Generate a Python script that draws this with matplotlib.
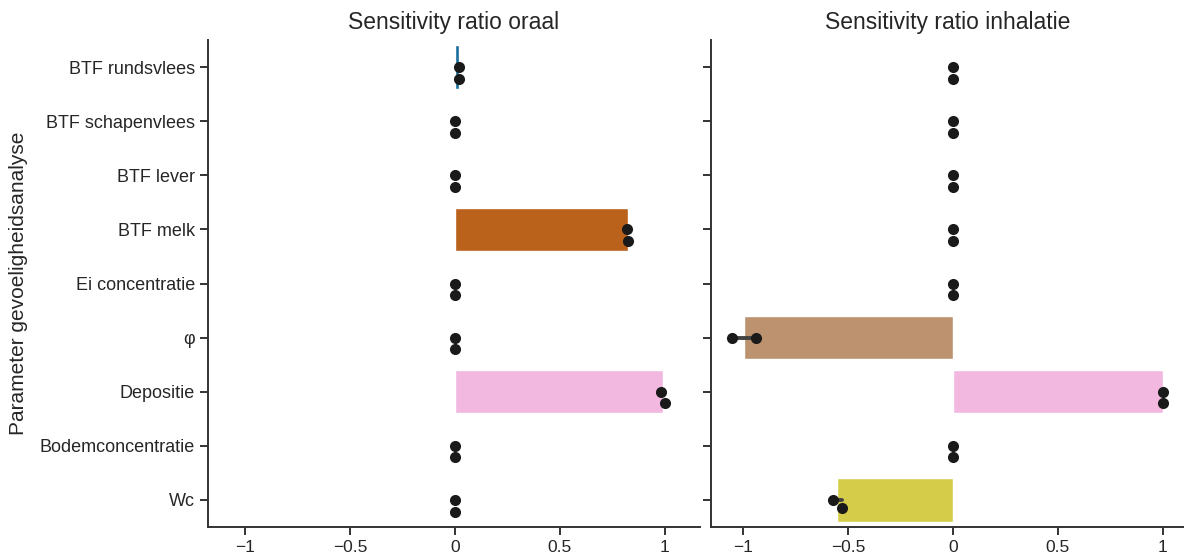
import matplotlib.pyplot as plt
import matplotlib.ticker as mticker
import numpy as np
import pandas as pd
import seaborn as sns

sns.set_style("ticks")
plt.rcParams['font.family'] = ['Liberation Sans', 'DejaVu Sans']

# Parameters (rows) and the two model runs per panel
params = ["BTF rundsvlees", "BTF schapenvlees", "BTF lever", "BTF melk",
          "Ei concentratie", "φ", "Depositie", "Bodemconcentratie", "Wc"]

oraal_run1 = [0.02, 0.0, 0.0, 0.82, 0.0, 0.0, 0.98, 0.0, 0.0]
oraal_run2 = [0.02, 0.0, 0.0, 0.825, 0.0, 0.0, 1.0, 0.0, 0.0]

inhal_run1 = [0.0, 0.0, 0.0, 0.0, 0.0, -1.05, 1.0, 0.0, -0.57]
inhal_run2 = [0.0, 0.0, 0.0, 0.0, 0.0, -0.94, 1.0, 0.0, -0.53]

titles = ["Sensitivity ratio oraal", "Sensitivity ratio inhalatie"]
xticks = [-1, -0.5, 0, 0.5, 1]


def long_df(run1, run2):
    return pd.DataFrame({
        "param": params * 2,
        "value": run1 + run2,
    })


fig = plt.figure(figsize=(11.84, 5.59), dpi=100)
ax1 = fig.add_axes([208 / 1184, 32 / 559, 492 / 1184, 487 / 559])
ax2 = fig.add_axes([711 / 1184, 32 / 559, 473 / 1184, 487 / 559])

frames = [long_df(oraal_run1, oraal_run2), long_df(inhal_run1, inhal_run2)]
xlims = [(-1.176, 1.167), (-1.152, 1.10)]

for ax, df, title, xl in zip([ax1, ax2], frames, titles, xlims):
    sns.barplot(data=df, x="value", y="param", hue="param", order=params,
                hue_order=params, palette="colorblind", legend=False,
                errorbar=("pi", 100), err_kws={"color": ".26", "linewidth": 2.8},
                width=0.8, ax=ax)
    sns.swarmplot(data=df, x="value", y="param", order=params, color="0.1",
                  size=8, ax=ax)
    ax.set_xlim(*xl)
    ax.set_xticks(xticks)
    ax.xaxis.set_major_formatter(
        mticker.FuncFormatter(lambda v, p: f"{v:g}".replace("-", "\u2212")))
    ax.set_title(title, fontsize=16.5, pad=8)
    ax.set_xlabel("")
    ax.tick_params(axis="y", labelsize=13, length=6, width=1.4, color="0.2")
    ax.tick_params(axis="x", labelsize=12.5, length=6, width=1.4, color="0.2")
    for s in ["left", "bottom"]:
        ax.spines[s].set_linewidth(1.4)
        ax.spines[s].set_color("0.2")
    sns.despine(ax=ax)

ax1.set_ylabel("Parameter gevoeligheidsanalyse", fontsize=15, labelpad=8)
ax2.set_ylabel("")
ax2.set_yticklabels([])

fig.savefig("out.png", dpi=100)
